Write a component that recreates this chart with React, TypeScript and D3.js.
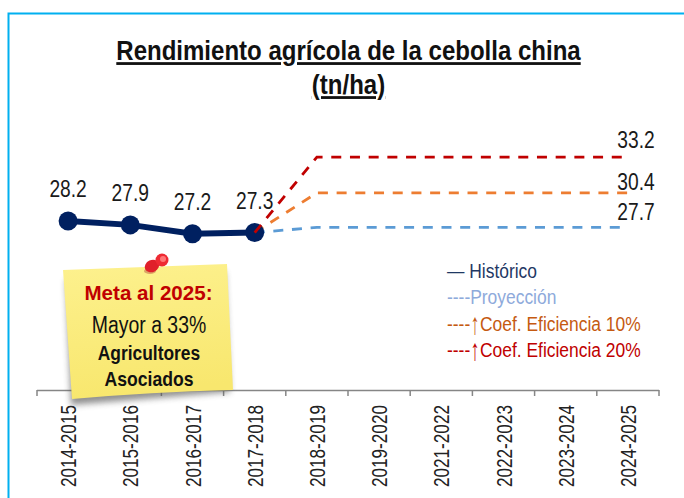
import React from "react";
import { scaleBand, scaleLinear, line } from "d3";

const categories = ["2014-2015", "2015-2016", "2016-2017", "2017-2018", "2018-2019", "2019-2020", "2021-2022", "2022-2023", "2023-2024", "2024-2025"];
const historico = [28.2, 27.9, 27.2, 27.3];
const proyeccion = [null, null, null, 27.3, 27.7, 27.7, 27.7, 27.7, 27.7, 27.7];
const coef10 = [null, null, null, 27.3, 30.4, 30.4, 30.4, 30.4, 30.4, 30.4];
const coef20 = [null, null, null, 27.3, 33.2, 33.2, 33.2, 33.2, 33.2, 33.2];
const endLabels = [33.2, 30.4, 27.7];
const endOffsets = [-9, -3, -7];
const legendItems = ["— Histórico", "----Proyección", "----↑Coef. Eficiencia 10%", "----↑Coef. Eficiencia 20%"];
const legendColors = ["#1f3864", "#8eaadb", "#c55a11", "#c00000"];

const width = 684;
const height = 498;

const x = scaleBand().domain(categories).range([37, 659]);
const y = scaleLinear().domain([15, 35]).range([390, 134]);
const cx = (c: string) => x(c)! + x.bandwidth() / 2;

type Pt = { c: string; v: number };
const toPts = (vals: (number | null)[]): Pt[] =>
  vals.map((v, i) => ({ c: categories[i], v })).filter((d) => d.v !== null) as Pt[];
const path = line<Pt>().x((d) => cx(d.c)).y((d) => y(d.v));

// the source font is a squeezed Arial, so squeeze Liberation Sans the same way
const Squeezed = ({ x, y, sx, rotate = 0, children, ...rest }: any) => (
  <text transform={`translate(${x},${y}) rotate(${rotate}) scale(${sx},1)`} {...rest}>
    {children}
  </text>
);

// the arrow is much taller in the source, so it gets its own text
const LegendItem = ({ label, color, yPos }: { label: string; color: string; yPos: number }) => {
  const [dashes, rest] = label.split("↑");
  if (rest === undefined) {
    return <Squeezed x={447} y={yPos} sx={0.83} fill={color}>{label}</Squeezed>;
  }
  return (
    <g fill={color}>
      <Squeezed x={447} y={yPos} sx={0.83}>{dashes}</Squeezed>
      <Squeezed x={475} y={yPos + 3} sx={0.6} fontSize={30} textAnchor="middle">↑</Squeezed>
      <Squeezed x={480} y={yPos} sx={0.83}>{rest}</Squeezed>
    </g>
  );
};

export default function App() {
  const histPts = toPts(historico);
  return (
    <svg width={width} height={height} style={{ position: "absolute", left: 0, top: 0 }} fontFamily="'Liberation Sans', Arial, sans-serif">
      <defs>
        <linearGradient id="note" x1="0" y1="0" x2="0.15" y2="1">
          <stop offset="0" stopColor="#fdf18e" />
          <stop offset="1" stopColor="#f8e76e" />
        </linearGradient>
        <filter id="blur" x="-20%" y="-20%" width="140%" height="140%">
          <feGaussianBlur stdDeviation="3" />
        </filter>
      </defs>

      <path d={`M8.5 ${height} V13.5 H${width}`} fill="none" stroke="#00b0f0" strokeWidth={2} />

      <g fill="#111" fontWeight="700" fontSize={28} textAnchor="middle" textDecoration="underline" style={{ textDecorationThickness: "2.5px" }}>
        <Squeezed x={348.5} y={60} sx={0.858}>Rendimiento agrícola de la cebolla china</Squeezed>
        <Squeezed x={348.5} y={94} sx={0.858}>(tn/ha)</Squeezed>
      </g>

      {/* axis */}
      <g stroke="#868686" strokeWidth={1.5} fill="none">
        <line x1={37} x2={659} y1={390.5} y2={390.5} />
        {[...categories.map((c) => x(c)!), 659].map((t, i) => (
          <line key={i} x1={t} x2={t} y1={390} y2={396} />
        ))}
      </g>
      {categories.map((c) => (
        <Squeezed key={c} x={cx(c) + 8} y={405} sx={0.78} rotate={-90} textAnchor="end" fontSize={22} fill="#222">
          {c}
        </Squeezed>
      ))}

      {/* projections under the markers */}
      <path d={path(toPts(proyeccion))!} fill="none" stroke="#5b9bd5" strokeWidth={2.8} strokeDasharray="10 8.7" />
      <path d={path(toPts(coef10))!} fill="none" stroke="#ed7d31" strokeWidth={2.8} strokeDasharray="10 8.7" />

      <path d={path(histPts)!} fill="none" stroke="#002060" strokeWidth={6} />
      {histPts.map((d) => (
        <circle key={d.c} cx={cx(d.c)} cy={y(d.v)} r={9.5} fill="#002060" />
      ))}
      <path d={path(toPts(coef20))!} fill="none" stroke="#c00000" strokeWidth={2.8} strokeDasharray="10 8.7" />

      <g fontSize={24} fill="#1a1a1a" textAnchor="middle">
        {histPts.map((d) => (
          <Squeezed key={d.c} x={cx(d.c)} y={y(d.v) - 24} sx={0.8}>{d.v.toFixed(1)}</Squeezed>
        ))}
        {endLabels.map((v, i) => (
          <Squeezed key={v} x={636} y={y(v) + endOffsets[i]} sx={0.8}>{v.toFixed(1)}</Squeezed>
        ))}
      </g>

      {/* legend */}
      <g fontSize={21}>
        {legendItems.map((t, i) => (
          <LegendItem key={t} label={t} color={legendColors[i]} yPos={278 + i * 26.4} />
        ))}
      </g>

      {/* sticky note */}
      <path d="M66 280 L225 272 L230 392 L71 405 Z" fill="#555" opacity={0.65} filter="url(#blur)" />
      <path d="M63 270 L227 264 L233 390 Q150 392 72 399 Z" fill="url(#note)" />
      <ellipse cx={150} cy={271} rx={6} ry={3} fill="#a33" opacity={0.4} />
      <ellipse cx={152} cy={266} rx={7.5} ry={6} fill="#e0202a" transform="rotate(-25 152 266)" />
      <circle cx={162} cy={260} r={6.5} fill="#ee2a33" />
      <circle cx={163} cy={259} r={3} fill="#f77" />
      <g textAnchor="middle">
        <Squeezed x={148.5} y={300} sx={0.98} fontSize={21} fontWeight="700" fill="#c00000">Meta al 2025:</Squeezed>
        <Squeezed x={149} y={333} sx={0.81} fontSize={24} fill="#111">Mayor a 33%</Squeezed>
        <Squeezed x={149} y={360} sx={0.87} fontSize={20} fontWeight="700" fill="#111">Agricultores</Squeezed>
        <Squeezed x={149} y={386} sx={0.88} fontSize={20} fontWeight="700" fill="#111">Asociados</Squeezed>
      </g>
    </svg>
  );
}
